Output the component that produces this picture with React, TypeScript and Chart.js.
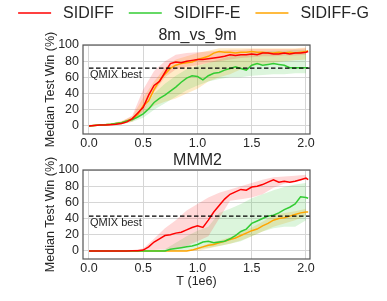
import React, { useEffect, useRef } from "react";
import { Chart, registerables } from "chart.js";
Chart.register(...registerables);

const FONT = "'Liberation Sans', Arial, Helvetica, sans-serif";
const TEXT = "#262626";

const seriesNames = ["SIDIFF", "SIDIFF-E", "SIDIFF-G"];
const seriesColors = ["#ff0000", "#33cc33", "#ffa500"];
const bandColors = ["rgba(255,40,40,0.18)", "rgba(60,200,60,0.18)", "rgba(255,165,0,0.22)"];

const lineT = [0, 0.05, 0.1, 0.15, 0.2, 0.25, 0.3, 0.35, 0.4, 0.45, 0.5, 0.55, 0.6, 0.65, 0.7, 0.75, 0.8, 0.85, 0.9, 0.95, 1.0, 1.05, 1.1, 1.15, 1.2, 1.25, 1.3, 1.35, 1.4, 1.45, 1.5, 1.55, 1.6, 1.65, 1.7, 1.75, 1.8, 1.85, 1.9, 1.95, 2.0, 2.02];
const bandT = [0, 0.1, 0.2, 0.3, 0.4, 0.5, 0.6, 0.7, 0.8, 0.9, 1.0, 1.1, 1.2, 1.3, 1.4, 1.5, 1.6, 1.7, 1.8, 1.9, 2.0];

const xTickValues = [0, 0.5, 1.0, 1.5, 2.0];
const yTickValues = [0, 20, 40, 60, 80, 100];

// ---- 8m_vs_9m ----
const topTitle = "8m_vs_9m";
const topQmix = 71.5;
const topSidiff = [0, 0.5, 1, 1, 1.5, 2, 3, 5, 9, 16, 23, 38, 50, 55, 66, 77, 79, 78, 80, 81, 82, 82, 83, 84, 85, 86, 88, 87, 88, 88, 89, 88, 90, 90, 89, 89, 90, 89, 90, 90, 91, 92];
const topSidiffE = [0, 0.5, 1, 1.5, 2, 3, 4, 6, 8, 11, 15, 21, 29, 34, 38, 43, 48, 54, 59, 62, 61, 57, 62, 65, 66, 69, 71, 73, 71, 69, 75, 77, 75, 76, 77, 76, 75, 72, 72, 72, 72, 72];
const topSidiffG = [0, 0.5, 1, 1.5, 2, 3, 4, 6, 9, 14, 25, 31, 45, 56, 64, 71, 75, 77, 78, 79, 82, 84, 86, 90, 92, 91, 91, 90, 91, 91, 92, 91, 91, 90, 90, 91, 90, 91, 90, 91, 92, 93];
const topSidiffHi = [1, 2, 3, 5, 13, 45, 68, 80, 88, 90, 91, 92, 93, 94, 94, 95, 95, 95, 95, 95, 96];
const topSidiffLo = [0, 0, 1, 2, 6, 18, 42, 60, 70, 73, 75, 78, 80, 82, 84, 85, 86, 86, 87, 87, 88];
const topSidiffEHi = [1, 2, 3, 5, 10, 20, 40, 52, 62, 70, 74, 78, 82, 86, 88, 90, 92, 93, 93, 94, 94];
const topSidiffELo = [0, 0, 1, 2, 5, 10, 20, 28, 36, 44, 50, 55, 58, 60, 60, 62, 63, 64, 64, 65, 65];
const topSidiffGHi = [1, 2, 3, 6, 12, 35, 55, 72, 82, 86, 90, 93, 96, 96, 96, 96, 96, 96, 96, 96, 97];
const topSidiffGLo = [0, 0, 1, 2, 5, 15, 25, 30, 34, 40, 46, 55, 60, 64, 70, 74, 76, 78, 80, 81, 82];

// ---- MMM2 ----
const botTitle = "MMM2";
const botQmix = 43;
const botSidiff = [0, 0, 0, 0, 0, 0, 0, 0, 0.2, 0.3, 1, 5, 11, 15, 19, 20, 22, 23, 26, 29, 31, 29, 38, 48, 56, 64, 70, 73, 76, 75, 79, 80, 82, 85, 88, 85, 86, 85, 86, 88, 90, 88];
const botSidiffE = [0, 0, 0, 0, 0, 0, 0, 0, 0, 0, 0, 0, 0, 0, 0, 2, 3, 4, 5, 6, 8, 11, 12, 10, 11, 12, 15, 19, 24, 27, 34, 37, 40, 43, 44, 47, 51, 54, 58, 67, 66, 65];
const botSidiffG = [0, 0, 0, 0, 0, 0, 0, 0, 0, 0, 0, 0, 0, 0, 0, 0, 0, 0, 0, 1, 3, 5, 7, 8, 10, 12, 14, 16, 19, 22, 25, 27, 31, 34, 38, 40, 41, 43, 45, 47, 48, 48];
const botSidiffHi = [0, 0, 0, 0, 1, 3, 15, 28, 38, 50, 58, 66, 72, 76, 80, 84, 88, 91, 92, 93, 94];
const botSidiffLo = [0, 0, 0, 0, 0, 0, 1, 2, 3, 6, 12, 18, 40, 62, 64, 66, 70, 78, 83, 86, 88];
const botSidiffEHi = [0, 0, 0, 0, 0, 0, 0, 2, 10, 18, 25, 30, 47, 52, 58, 65, 70, 75, 79, 82, 84];
const botSidiffELo = [0, 0, 0, 0, 0, 0, 0, 0, 0, 1, 2, 4, 6, 9, 12, 18, 24, 28, 30, 30, 38];
const botSidiffGHi = [0, 0, 0, 0, 0, 0, 0, 0, 0, 0, 4, 9, 13, 17, 23, 29, 36, 44, 47, 49, 52];
const botSidiffGLo = [0, 0, 0, 0, 0, 0, 0, 0, 0, 0, 0, 3, 6, 9, 13, 18, 24, 30, 34, 38, 44];

const X_MIN = -0.055;
const X_MAX = 2.037;

type Panel = {
  title: string;
  qmix: number;
  lines: number[][];
  bands: number[][][]; // [hi, lo] per series
  legend: boolean;
  xTitle: boolean;
  height: number;
  padTop: number;
  xAxisHeight: number;
};

const pts = (xs: number[], ys: number[]) => xs.map((x, i) => ({ x, y: ys[i] }));

function buildConfig(p: Panel): any {
  const datasets: any[] = [];
  datasets.push({
    label: "QMIX best",
    data: [{ x: 0, y: p.qmix }, { x: X_MAX, y: p.qmix }],
    borderColor: "#000",
    borderWidth: 1.3,
    borderDash: [4.5, 2.5],
    pointRadius: 0,
    fill: false,
  });
  p.lines.forEach((ys, i) => {
    datasets.push({
      label: seriesNames[i],
      data: pts(lineT, ys),
      borderColor: seriesColors[i],
      borderWidth: 1.5,
      pointRadius: 0,
      tension: 0,
      fill: false,
    });
  });
  p.bands.forEach(([hi, lo], i) => {
    datasets.push({
      label: seriesNames[i] + " hi",
      data: pts(bandT, hi),
      borderWidth: 0,
      borderColor: "rgba(0,0,0,0)",
      pointRadius: 0,
      fill: false,
    });
    datasets.push({
      label: seriesNames[i] + " lo",
      data: pts(bandT, lo),
      borderWidth: 0,
      borderColor: "rgba(0,0,0,0)",
      backgroundColor: bandColors[i],
      pointRadius: 0,
      fill: "-1",
    });
  });

  const decor = {
    id: "decor",
    afterDatasetsDraw(chart: any) {
      const { ctx, chartArea: a, scales } = chart;
      ctx.save();
      ctx.font = `11px ${FONT}`;
      ctx.fillStyle = TEXT;
      ctx.textAlign = "left";
      ctx.textBaseline = "top";
      ctx.fillText("QMIX best", scales.x.getPixelForValue(0) + 1, scales.y.getPixelForValue(p.qmix) + 1.5);
      ctx.strokeStyle = "#555";
      ctx.lineWidth = 1.2;
      ctx.strokeRect(a.left, a.top, a.right - a.left, a.bottom - a.top);
      ctx.restore();
    },
    afterDraw(chart: any) {
      if (!p.legend) return;
      const { ctx } = chart;
      ctx.save();
      ctx.font = `16px ${FONT}`;
      const lineLen = 33, gapText = 12, gapItem = 15;
      const widths = seriesNames.map((n) => ctx.measureText(n).width);
      const total = widths.reduce((s, w) => s + w, 0) + seriesNames.length * (lineLen + gapText) + (seriesNames.length - 1) * gapItem;
      let x = chart.width / 2 - total / 2;
      const y = 13;
      seriesNames.forEach((n, i) => {
        ctx.strokeStyle = seriesColors[i];
        ctx.lineWidth = 1.5;
        ctx.beginPath();
        ctx.moveTo(x, y);
        ctx.lineTo(x + lineLen, y);
        ctx.stroke();
        ctx.fillStyle = TEXT;
        ctx.textAlign = "left";
        ctx.textBaseline = "middle";
        ctx.fillText(n, x + lineLen + gapText, y + 0.5);
        x += lineLen + gapText + widths[i] + gapItem;
      });
      ctx.restore();
    },
  };

  return {
    type: "line",
    data: { datasets },
    plugins: [decor],
    options: {
      animation: false,
      responsive: false,
      devicePixelRatio: 1,
      layout: { padding: { left: 8, right: 0, top: p.padTop, bottom: 0 } },
      plugins: {
        legend: { display: false },
        tooltip: { enabled: false },
        title: {
          display: true,
          text: p.title,
          color: TEXT,
          font: { family: FONT, size: 16, weight: "normal" },
          padding: { top: 0, bottom: 0 },
        },
      },
      scales: {
        x: {
          type: "linear",
          min: X_MIN,
          max: X_MAX,
          afterFit: (s: any) => { s.height = p.xAxisHeight; },
          afterBuildTicks: (s: any) => { s.ticks = xTickValues.map((v) => ({ value: v })); },
          grid: { color: "#d6d6d6", lineWidth: 1, drawTicks: false },
          border: { display: false },
          ticks: {
            color: TEXT,
            font: { family: FONT, size: 12.5 },
            padding: 2,
            maxRotation: 0,
            autoSkip: false,
            callback: (v: any) => Number(v).toFixed(1),
          },
          title: {
            display: p.xTitle,
            text: "T (1e6)",
            color: TEXT,
            font: { family: FONT, size: 12.5 },
            padding: { top: 0, bottom: 12 },
          },
        },
        y: {
          type: "linear",
          min: -10,
          max: 100,
          afterFit: (s: any) => { s.width = 75; },
          afterBuildTicks: (s: any) => { s.ticks = yTickValues.map((v) => ({ value: v })); },
          grid: { color: "#d6d6d6", lineWidth: 1, drawTicks: false },
          border: { display: false },
          ticks: {
            color: TEXT,
            font: { family: FONT, size: 12.5 },
            padding: 4,
            autoSkip: false,
          },
          title: {
            display: true,
            text: "Median Test Win (%)",
            color: TEXT,
            font: { family: FONT, size: 12.5 },
            padding: { top: 35, bottom: 0 },
          },
        },
        yR: {
          type: "linear",
          position: "right",
          display: true,
          afterFit: (s: any) => { s.width = 77; },
          grid: { display: false, drawTicks: false },
          border: { display: false },
          ticks: { display: false },
        },
      },
    },
  };
}

function PanelChart({ panel, top }: { panel: Panel; top: number }) {
  const ref = useRef<HTMLCanvasElement | null>(null);
  useEffect(() => {
    if (!ref.current) return;
    const chart = new Chart(ref.current, buildConfig(panel));
    return () => chart.destroy();
  }, [panel]);
  return (
    <canvas
      ref={ref}
      width={387}
      height={panel.height}
      style={{ position: "absolute", left: 0, top, width: 387, height: panel.height, display: "block" }}
    />
  );
}

const topPanel: Panel = {
  title: topTitle,
  qmix: topQmix,
  lines: [topSidiff, topSidiffE, topSidiffG],
  bands: [[topSidiffHi, topSidiffLo], [topSidiffEHi, topSidiffELo], [topSidiffGHi, topSidiffGLo]],
  legend: true,
  xTitle: false,
  height: 150,
  padTop: 25.8,
  xAxisHeight: 16,
};

const botPanel: Panel = {
  title: botTitle,
  qmix: botQmix,
  lines: [botSidiff, botSidiffE, botSidiffG],
  bands: [[botSidiffHi, botSidiffLo], [botSidiffEHi, botSidiffELo], [botSidiffGHi, botSidiffGLo]],
  legend: false,
  xTitle: true,
  height: 151,
  padTop: 0.8,
  xAxisHeight: 42,
};

export default function App() {
  Chart.defaults.font.family = FONT;
  return (
    <div style={{ position: "absolute", left: 0, top: 0, width: 387, height: 301, background: "#fff" }}>
      <PanelChart panel={topPanel} top={0} />
      <PanelChart panel={botPanel} top={150} />
    </div>
  );
}
